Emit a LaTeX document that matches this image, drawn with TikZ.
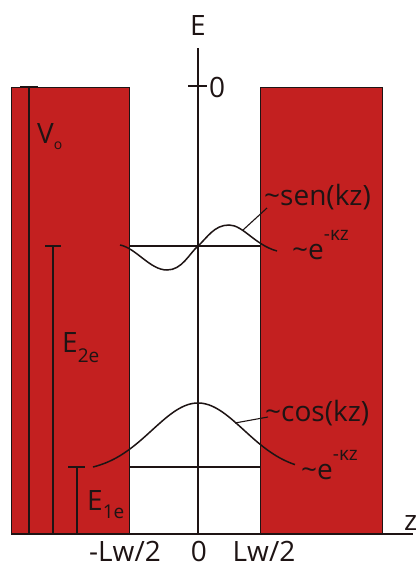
\documentclass[tikz,border=0pt]{standalone}
\usepackage{fontspec}
\setmainfont{Open Sans}
\definecolor{wallred}{RGB}{195,32,32}
\definecolor{inkc}{RGB}{30,20,20}
\newcommand\mysub[2][-0.32em]{\raisebox{#1}{\fontsize{19}{20}\selectfont #2}}
\newcommand\mysup[1]{\raisebox{0.65em}{\fontsize{19}{20}\selectfont #1}}
\newcommand\tl{\textasciitilde}
\begin{document}
\begin{tikzpicture}[x=1pt,y=-1pt,
  lbl/.style={font=\fontsize{28}{30}\selectfont, inner sep=0pt, text=inkc},
  wall/.style={fill=wallred, draw=inkc, line width=0.9pt},
  ln/.style={line width=1.4pt, draw=inkc},
  thin/.style={line width=1.1pt, draw=inkc},
  wave/.style={line width=1.5pt, draw=inkc}]
\useasboundingbox (0,0) rectangle (419,568);
\fill[white] (0,0) rectangle (419,568);
% barriers
\draw[wall] (11,87) rectangle (129,534);
\draw[wall] (260,87) rectangle (382,534);
% coordinates
\coordinate (Etop) at (198,48);
\coordinate (Ebot) at (198,534);
\coordinate (zl) at (11,534);
\coordinate (zr) at (413,534);
\coordinate (t0l) at (188,86);
\coordinate (t0r) at (207,86);
% axes
\draw[ln] (Etop) -- (Ebot);
\draw[ln] (zl) -- (zr);
\draw[ln] (t0l) -- (t0r);
\node[lbl, anchor=base] (Elab) at (198,35) {E};
\node[lbl, anchor=base west] (zero) at (209,97) {0};
\node[lbl, anchor=base west] (zlab) at (404,530) {z};
% energy scale bars
\coordinate (v0t) at (29,87);
\coordinate (v0b) at (29,534);
\coordinate (v0tl) at (20,87);
\coordinate (v0tr) at (38,87);
\draw[ln] (v0t) -- (v0b);
\draw[ln] (v0tl) -- (v0tr);
\coordinate (e2t) at (53,246);
\coordinate (e2b) at (53,534);
\coordinate (e2tl) at (45,246);
\coordinate (e2tr) at (61,246);
\draw[ln] (e2t) -- (e2b);
\draw[ln] (e2tl) -- (e2tr);
\coordinate (e1t) at (77,467);
\coordinate (e1b) at (77,534);
\coordinate (e1tl) at (68,467);
\coordinate (e1tr) at (85,467);
\draw[ln] (e1t) -- (e1b);
\draw[ln] (e1tl) -- (e1tr);
\node[lbl, anchor=base west] (V0) at (37,143) {V\mysub[-0.22em]{\fontsize{14}{14}\selectfont o}};
\node[lbl, anchor=base west] (E2e) at (62,352) {E\mysub[-0.36em]{2e}};
\node[lbl, anchor=base west] (E1e) at (87,510) {E\mysub[-0.3em]{1e}};
% levels
\coordinate (l2a) at (129,246);
\coordinate (l2b) at (260,246);
\coordinate (l1a) at (129,467);
\coordinate (l1b) at (260,467);
\draw[thin] (l2a) -- (l2b);
\draw[thin] (l1a) -- (l1b);
% second state (odd)
\draw[wave] (120,245) .. controls (136,248) and (150,270) .. (167,270)
  .. controls (182,270) and (189,254) .. (198,246)
  .. controls (207,238) and (214,225) .. (229,225)
  .. controls (243,225) and (255,245) .. (277,251);
% first state (even)
\draw[wave] plot[domain=-105:97, samples=90, smooth]
  ({198+\x}, {467 - 69.1*(exp(-(\x*\x)/4232) - 0.0738)});
% labels on the right
\node[lbl, anchor=base west] (sen) at (264,205) {\tl sen(kz)};
\node[lbl, anchor=base west] (eup) at (292,259) {\tl e\mysup{-κz}};
\node[lbl, anchor=base west] (cos) at (265,421) {\tl cos(kz)};
\node[lbl, anchor=base west] (edn) at (301,479) {\tl e\mysup{-κz}};
\coordinate (p1a) at (243,230);
\coordinate (p1b) at (267,208);
\coordinate (p2a) at (235,423);
\coordinate (p2b) at (268,417);
\draw[thin] (p1a) -- (p1b);
\draw[thin] (p2a) -- (p2b);
% bottom labels
\node[lbl, anchor=base] (mlw) at (125,561) {-Lw/2};
\node[lbl, anchor=base] (z0) at (199,561) {0};
\node[lbl, anchor=base] (plw) at (264,561) {Lw/2};
\end{tikzpicture}
\end{document}
